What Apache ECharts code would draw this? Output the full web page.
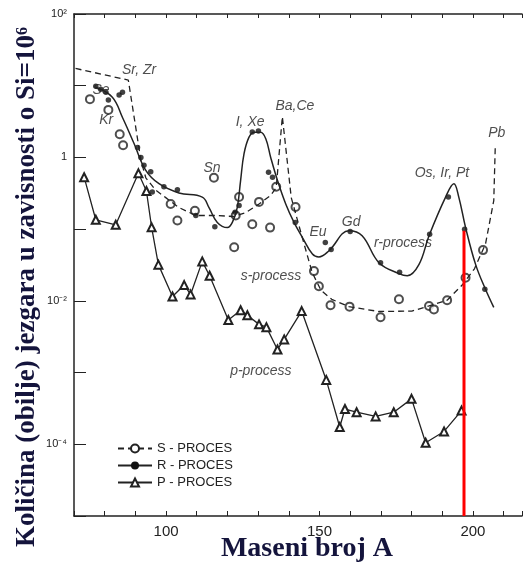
<!DOCTYPE html>
<html>
<head>
<meta charset="utf-8">
<title>Obilje jezgara - s, r i p proces</title>
<script src="https://cdn.jsdelivr.net/npm/echarts@6/dist/echarts.min.js"></script>
<style>
  html, body { margin: 0; padding: 0; background: #fff; }
  #chart { width: 525px; height: 577px; }
</style>
</head>
<body>
<div id="chart"></div>
<script>
// s-proces: iscrtkana krivulja + prazni kruzici
var sCurveA = [70.5, 87.7, 91.8, 93.4, 96.6, 99.9, 104.2, 109.7, 116.2, 122.0, 126.0, 130.3, 134.1, 135.9, 137.9, 140.8, 144.4, 147.6, 150.5, 154.0, 159.6, 169.4, 180.1, 185.7, 191.6, 196.5, 200.5, 204.1, 206.8, 207.3];
var sCurveV = [17.4, 12.0, 0.91, 0.52, 0.35, 0.275, 0.20, 0.155, 0.155, 0.15, 0.17, 0.224, 0.295, 0.38, 3.7, 0.275, 0.076, 0.025, 0.014, 0.0105, 0.0083, 0.0071, 0.0072, 0.0085, 0.0102, 0.0166, 0.028, 0.062, 0.25, 1.48];
var sDotA = [75.2, 81.2, 84.9, 86.0, 101.5, 103.7, 109.4, 115.6, 122.2, 122.7, 123.8, 128.1, 130.3, 133.9, 135.9, 142.2, 148.2, 149.8, 153.6, 159.8, 169.9, 175.9, 185.7, 187.3, 191.6, 197.6, 203.3];
var sDotV = [6.5, 4.6, 2.1, 1.48, 0.224, 0.132, 0.18, 0.52, 0.056, 0.155, 0.28, 0.117, 0.24, 0.105, 0.39, 0.204, 0.026, 0.016, 0.0087, 0.0083, 0.0059, 0.0105, 0.0085, 0.0076, 0.0102, 0.021, 0.051];

// r-proces: puna glatka krivulja + pune tocke
var rCurveA = [77.1, 82.5, 85.8, 89.6, 93.4, 97.7, 104.2, 111.8, 114.0, 116.7, 120.0, 121.6, 123.2, 124.3, 125.4, 127.0, 128.7, 130.8, 132.5, 134.1, 136.3, 139.0, 141.7, 144.4, 147.7, 149.8, 153.1, 159.6, 163.9, 169.4, 175.9, 178.6, 182.4, 185.7, 191.1, 193.8, 195.4, 197.6, 200.9, 204.1, 206.8];
var rCurveV = [9.5, 6.9, 3.6, 1.55, 0.66, 0.43, 0.32, 0.28, 0.20, 0.124, 0.105, 0.124, 0.20, 0.48, 1.12, 1.9, 2.24, 2.24, 1.82, 1.0, 0.48, 0.224, 0.124, 0.077, 0.045, 0.041, 0.050, 0.095, 0.081, 0.034, 0.024, 0.0224, 0.032, 0.081, 0.28, 0.43, 0.28, 0.106, 0.032, 0.0145, 0.0081];
var rDotA = [77.1, 78.7, 80.4, 81.2, 84.7, 85.8, 90.7, 91.8, 92.8, 95.0, 95.5, 99.3, 103.7, 109.7, 115.9, 122.5, 123.8, 128.1, 130.1, 133.4, 134.7, 142.1, 151.9, 153.8, 160.0, 169.9, 176.1, 185.9, 192.0, 197.3, 203.9];
var rDotV = [9.8, 8.9, 8.1, 6.3, 7.4, 8.1, 1.38, 1.0, 0.78, 0.63, 0.33, 0.39, 0.355, 0.155, 0.108, 0.172, 0.214, 2.26, 2.34, 0.62, 0.53, 0.124, 0.065, 0.052, 0.093, 0.034, 0.025, 0.085, 0.28, 0.10, 0.0145];

// p-proces: izlomljena linija s trokutima
var pA = [73.3, 77.1, 83.6, 91.0, 93.6, 95.3, 97.5, 102.1, 105.9, 108.0, 111.8, 114.2, 120.3, 124.3, 126.5, 130.3, 132.7, 136.3, 138.5, 144.2, 152.2, 156.6, 158.3, 162.1, 168.3, 174.2, 180.0, 184.6, 190.6, 196.3];
var pV = [0.53, 0.135, 0.115, 0.60, 0.34, 0.106, 0.032, 0.0115, 0.0166, 0.0123, 0.0355, 0.0224, 0.0054, 0.0074, 0.0063, 0.0047, 0.0043, 0.0021, 0.0029, 0.0072, 0.00079, 0.000174, 0.00031, 0.00028, 0.000245, 0.00028, 0.00043, 0.000105, 0.000151, 0.000295];

// crvena oznaka (A = 197)
var redA = [197.1, 197.1];
var redV = [0.00001, 0.095];

// natpisi na grafu
var labelText = ['Sr, Zr', 'Se', 'Kr', 'I, Xe', 'Ba,Ce', 'Sn', 'Eu', 'Gd', 'r-process', 's-process', 'p-process', 'Os, Ir, Pt', 'Pb'];
var labelA = [91.2, 78.8, 80.5, 127.4, 142.0, 115.0, 149.5, 160.3, 177.2, 134.2, 130.9, 189.9, 207.8];
var labelV = [16.5, 8.6, 3.3, 3.1, 5.2, 0.72, 0.092, 0.127, 0.063, 0.0224, 0.00105, 0.60, 2.17];

// oznake osi
var xTickLabels = [100, 150, 200];
var yTickExp = [2, 0, -2, -4];
var yTickLabels = ['10²', '1', '10⁻²', '10⁻⁴'];

function zip(a, v) {
  var out = [];
  for (var i = 0; i < a.length; i++) out.push([a[i], v[i]]);
  return out;
}

var ink = '#222';
var titleColor = '#14143c';

var chart = echarts.init(document.getElementById('chart'));

var option = {
  animation: false,
  backgroundColor: '#fff',
  grid: { left: 74, right: 2, top: 14, bottom: 61 },
  legend: {
    data: ['S - PROCES', 'R - PROCES', 'P - PROCES'],
    orient: 'vertical',
    left: 112,
    top: 437,
    itemWidth: 34,
    itemHeight: 10,
    itemGap: 4,
    textStyle: { color: ink, fontSize: 13, fontFamily: 'Liberation Sans' }
  },
  xAxis: [{
    type: 'value',
    min: 70,
    max: 216,
    interval: 10,
    position: 'bottom',
    splitLine: { show: false },
    axisLine: { lineStyle: { color: ink, width: 1.5 } },
    axisTick: { inside: true, length: 5, lineStyle: { color: ink } },
    axisLabel: {
      color: ink,
      fontSize: 15,
      fontFamily: 'Liberation Sans',
      margin: 8,
      formatter: function (v) {
        return xTickLabels.indexOf(v) >= 0 ? String(v) : '';
      }
    },
    name: 'Maseni broj A',
    nameLocation: 'middle',
    nameGap: 19,
    nameMoveOverlap: false,
    nameTextStyle: {
      color: titleColor,
      fontSize: 28,
      fontWeight: 'bold',
      fontFamily: 'Liberation Serif',
      padding: [0, 0, 0, 18]
    }
  }, {
    type: 'value',
    min: 70,
    max: 216,
    interval: 10,
    position: 'top',
    splitLine: { show: false },
    axisLine: { lineStyle: { color: ink, width: 1.5 } },
    axisTick: { inside: true, length: 4, lineStyle: { color: ink } },
    axisLabel: { show: false }
  }],
  yAxis: {
    type: 'log',
    logBase: 10,
    min: 0.00001,
    max: 100,
    interval: 1,
    splitLine: { show: false },
    axisLine: { show: true, lineStyle: { color: ink, width: 1.5 } },
    axisTick: { show: true, inside: true, length: 12, lineStyle: { color: ink } },
    axisLabel: {
      color: ink,
      fontSize: 11,
      fontFamily: 'Liberation Sans',
      margin: 7,
      formatter: function (v) {
        var e = Math.round(Math.log10(v));
        var k = yTickExp.indexOf(e);
        return k >= 0 ? yTickLabels[k] : '';
      }
    },
    name: 'Količina (obilje) jezgara u zavisnosti o Si=10⁶',
    nameLocation: 'middle',
    nameRotate: 90,
    nameGap: 33,
    nameMoveOverlap: false,
    nameTextStyle: {
      color: titleColor,
      fontSize: 27,
      fontWeight: 'bold',
      fontFamily: 'Liberation Serif',
      padding: [0, 44, 0, 0]
    }
  },
  series: [
    {
      name: 'S - PROCES',
      type: 'line',
      data: zip(sCurveA, sCurveV),
      symbol: 'emptyCircle',
      symbolSize: 8,
      showSymbol: false,
      lineStyle: { color: ink, width: 1.3, type: [6, 4] },
      itemStyle: { color: ink, borderWidth: 1.3 }
    },
    {
      name: 's-tocke',
      type: 'scatter',
      data: zip(sDotA, sDotV),
      symbol: 'emptyCircle',
      symbolSize: 8,
      itemStyle: { color: ink, borderColor: ink, borderWidth: 1.2 }
    },
    {
      name: 'R - PROCES',
      type: 'line',
      data: zip(rCurveA, rCurveV),
      smooth: 0.4,
      symbol: 'circle',
      symbolSize: 6,
      showSymbol: false,
      lineStyle: { color: ink, width: 1.5 },
      itemStyle: { color: '#111' }
    },
    {
      name: 'r-tocke',
      type: 'scatter',
      data: zip(rDotA, rDotV),
      symbol: 'circle',
      symbolSize: 5.5,
      itemStyle: { color: '#111' }
    },
    {
      name: 'P - PROCES',
      type: 'line',
      data: zip(pA, pV),
      symbol: 'emptyTriangle',
      symbolSize: 8,
      showSymbol: true,
      lineStyle: { color: ink, width: 1.3 },
      itemStyle: { color: ink, borderWidth: 1 }
    },
    {
      name: 'oznaka',
      type: 'line',
      data: zip(redA, redV),
      showSymbol: false,
      symbol: 'none',
      silent: true,
      z: 10,
      lineStyle: { color: '#ff0000', width: 3 }
    },
    {
      name: 'natpisi',
      type: 'scatter',
      silent: true,
      symbolSize: 1,
      itemStyle: { color: 'transparent' },
      data: labelText.map(function (t, i) {
        return { name: t, value: [labelA[i], labelV[i]] };
      }),
      label: {
        show: true,
        position: 'inside',
        formatter: '{b}',
        color: ink,
        fontSize: 14,
        fontStyle: 'italic',
        fontFamily: 'Liberation Sans'
      }
    }
  ]
};

chart.setOption(option);
</script>
</body>
</html>
